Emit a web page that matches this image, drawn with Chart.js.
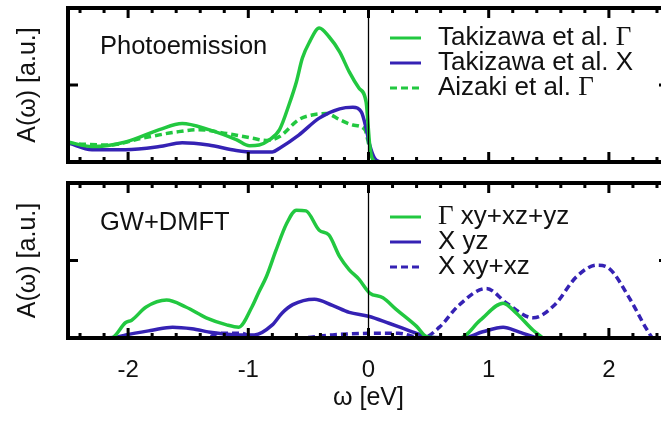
<!DOCTYPE html>
<html>
<head>
<meta charset="utf-8">
<script src="https://cdn.jsdelivr.net/npm/chart.js@4.4.1/dist/chart.umd.min.js"></script>
<style>
  html, body { margin: 0; padding: 0; background: #fff; overflow: hidden; width: 661px; height: 424px; }
  canvas { position: absolute; left: 0; }
  #topChart { top: 0; }
  #bottomChart { top: 170px; }
</style>
</head>
<body>
<canvas id="topChart" width="680" height="170" style="width:680px;height:170px"></canvas>
<canvas id="bottomChart" width="680" height="254" style="width:680px;height:254px"></canvas>
<script>
// Photoemission (top panel)
const peOmegaG = [-2.5, -2.3, -2.02, -1.74, -1.55, -1.33, -1.1, -0.99, -0.91, -0.83, -0.74, -0.66, -0.6, -0.55, -0.49, -0.41, -0.33, -0.24, -0.16, -0.08, -0.02, 0.01, 0.03, 0.07, 0.3];
const peTakizawaG = [0.26, 0.2, 0.26, 0.42, 0.5, 0.42, 0.29, 0.21, 0.22, 0.28, 0.42, 0.75, 1.04, 1.35, 1.56, 1.74, 1.63, 1.43, 1.17, 0.96, 0.78, 0.22, 0.05, 0.0, 0.0];

const peOmegaX = [-2.5, -2.3, -2.02, -1.74, -1.55, -1.33, -1.1, -0.95, -0.8, -0.74, -0.58, -0.41, -0.24, -0.13, -0.06, -0.02, 0.01, 0.05, 0.1, 0.3];
const peTakizawaX = [0.25, 0.16, 0.16, 0.2, 0.25, 0.22, 0.15, 0.13, 0.13, 0.18, 0.35, 0.57, 0.69, 0.71, 0.65, 0.44, 0.22, 0.05, 0.0, 0.0];

const peOmegaA = [-2.5, -2.16, -1.88, -1.6, -1.41, -1.18, -0.97, -0.85, -0.74, -0.58, -0.47, -0.35, -0.24, -0.13, -0.03, 0.01, 0.05, 0.1, 0.3];
const peAizakiG = [0.24, 0.22, 0.31, 0.39, 0.42, 0.37, 0.31, 0.28, 0.33, 0.55, 0.61, 0.63, 0.55, 0.48, 0.42, 0.18, 0.03, 0.0, 0.0];

// GW+DMFT (bottom panel)
const dmftOmegaG = [-2.18, -2.14, -2.02, -1.97, -1.85, -1.68, -1.52, -1.35, -1.18, -1.08, -0.97, -0.91, -0.85, -0.77, -0.68, -0.6, -0.52, -0.41, -0.33, -0.24, -0.16, -0.08, 0.01, 0.12, 0.23, 0.4, 0.48, 0.59, 0.76, 0.93, 1.12, 1.23, 1.37, 1.45];
const dmftGamma = [0, 0, 0.2, 0.23, 0.4, 0.49, 0.4, 0.26, 0.17, 0.14, 0.4, 0.6, 0.79, 1.13, 1.48, 1.65, 1.64, 1.39, 1.33, 1.05, 0.88, 0.76, 0.58, 0.52, 0.37, 0.15, 0.02, 0, 0, 0.23, 0.45, 0.32, 0.1, 0];

const dmftOmegaYz = [-2.3, -2.1, -2.02, -1.8, -1.63, -1.47, -1.3, -1.08, -0.95, -0.8, -0.72, -0.63, -0.45, -0.3, -0.16, 0.0, 0.17, 0.26, 0.4, 0.5, 0.78, 0.95, 1.12, 1.25, 1.4];
const dmftXyz = [0, 0.01, 0.04, 0.1, 0.14, 0.12, 0.07, 0.04, 0.04, 0.17, 0.32, 0.43, 0.5, 0.42, 0.33, 0.28, 0.19, 0.14, 0.06, 0.01, 0, 0.08, 0.14, 0.08, 0];

const dmftOmegaXy = [-2.5, -1.35, -1.25, -1.05, -0.95, -0.6, -0.3, 0.0, 0.25, 0.4, 0.45, 0.59, 0.75, 0.98, 1.15, 1.37, 1.55, 1.73, 1.9, 2.0, 2.18, 2.32, 2.37, 2.5];
const dmftXxy = [0, 0, 0.06, 0.06, 0, 0, 0.04, 0.06, 0.06, 0.01, 0, 0.14, 0.42, 0.64, 0.45, 0.26, 0.43, 0.79, 0.94, 0.9, 0.49, 0.1, 0, 0];

const xTicks = [-2, -1, 0, 1, 2];
const xTickLabels = ['-2', '-1', '0', '1', '2'];

const GREEN = '#22c840';
const BLUE = '#3522b4';
const SANS = '"Liberation Sans", Arial, sans-serif';

const pts = (xs, ys) => xs.map((x, i) => ({ x: x, y: ys[i] }));

function series(label, xs, ys, color, dashed) {
  return {
    label: label,
    data: pts(xs, ys),
    borderColor: color,
    borderWidth: 3.5,
    borderDash: dashed ? [7, 4] : [],
    pointRadius: 0,
    fill: false,
    cubicInterpolationMode: 'monotone'
  };
}

// text with the Greek Gamma set in a serif face, like the original
function drawMixed(ctx, text, x, y) {
  const parts = text.split('Γ');
  let cx = x;
  parts.forEach((p, i) => {
    ctx.font = '26px ' + SANS;
    ctx.fillText(p, cx, y);
    cx += ctx.measureText(p).width;
    if (i < parts.length - 1) {
      ctx.font = '27px "Liberation Serif", serif';
      ctx.fillText('Γ', cx, y);
      cx += ctx.measureText('Γ').width;
    }
  });
}

const framePlugin = {
  id: 'frame',
  afterDatasetsDraw(chart, args, opts) {
    const { ctx, chartArea: a, scales: { x, y } } = chart;
    ctx.save();
    ctx.strokeStyle = '#000';

    // zero line
    const x0 = x.getPixelForValue(0);
    ctx.lineWidth = 1.3;
    ctx.beginPath();
    ctx.moveTo(x0, a.top);
    ctx.lineTo(x0, a.bottom);
    ctx.stroke();

    // inward ticks
    ctx.lineWidth = 3;
    for (let i = -12; i <= 12; i++) {
      const v = i * 0.2;
      const px = x.getPixelForValue(v);
      const len = (i % 5 === 0) ? 10 : 5;
      ctx.beginPath();
      ctx.moveTo(px, a.bottom); ctx.lineTo(px, a.bottom - len);
      ctx.moveTo(px, a.top); ctx.lineTo(px, a.top + len);
      ctx.stroke();
    }
    const py = y.getPixelForValue(1);
    ctx.beginPath();
    ctx.moveTo(a.left, py); ctx.lineTo(a.left + 10, py);
    ctx.moveTo(a.right, py); ctx.lineTo(a.right - 10, py);
    ctx.stroke();

    // frame
    ctx.lineWidth = 4;
    ctx.strokeRect(a.left, a.top, a.right - a.left, a.bottom - a.top);

    // panel label
    ctx.fillStyle = '#111';
    ctx.textBaseline = 'middle';
    ctx.font = '25.5px ' + SANS;
    ctx.fillText(opts.label, opts.labelX, opts.labelY);

    // legend
    chart.data.datasets.forEach((ds, i) => {
      const ly = opts.legendY + i * 25;
      ctx.strokeStyle = ds.borderColor;
      ctx.lineWidth = 3;
      ctx.setLineDash(ds.borderDash.length ? [7, 4] : []);
      ctx.beginPath();
      ctx.moveTo(opts.legendX, ly);
      ctx.lineTo(opts.legendX + 31, ly);
      ctx.stroke();
      ctx.setLineDash([]);
      ctx.fillStyle = '#111';
      drawMixed(ctx, ds.label, opts.legendX + 48, ly);
    });
    ctx.restore();
  }
};

function yAxis(titlePad) {
  return {
    min: 0,
    max: 2,
    ticks: { display: false },
    grid: { display: false },
    border: { display: false },
    title: {
      display: true,
      text: 'A(ω) [a.u.]',
      color: '#111',
      font: { size: 25, family: SANS },
      padding: { top: titlePad, bottom: 0 }
    },
    afterFit: s => { s.width = 68; }
  };
}

new Chart(document.getElementById('topChart'), {
  type: 'line',
  data: {
    datasets: [
      series('Takizawa et al. Γ', peOmegaG, peTakizawaG, GREEN, false),
      series('Takizawa et al. X', peOmegaX, peTakizawaX, BLUE, false),
      series('Aizaki et al. Γ', peOmegaA, peAizakiG, GREEN, true)
    ]
  },
  options: {
    responsive: false,
    animation: false,
    layout: { padding: { left: 0, right: 11, top: 8, bottom: 8 } },
    plugins: {
      legend: { display: false },
      tooltip: { enabled: false },
      frame: { label: 'Photoemission', labelX: 100, labelY: 47, legendX: 390, legendY: 38 }
    },
    scales: {
      x: { type: 'linear', min: -2.5, max: 2.5, display: false },
      y: yAxis(13)
    }
  },
  plugins: [framePlugin]
});

new Chart(document.getElementById('bottomChart'), {
  type: 'line',
  data: {
    datasets: [
      series('Γ xy+xz+yz', dmftOmegaG, dmftGamma, GREEN, false),
      series('X yz', dmftOmegaYz, dmftXyz, BLUE, false),
      series('X xy+xz', dmftOmegaXy, dmftXxy, BLUE, true)
    ]
  },
  options: {
    responsive: false,
    animation: false,
    layout: { padding: { left: 0, right: 11, top: 13, bottom: 0 } },
    plugins: {
      legend: { display: false },
      tooltip: { enabled: false },
      frame: { label: 'GW+DMFT', labelX: 100, labelY: 53, legendX: 390, legendY: 47 }
    },
    scales: {
      x: {
        type: 'linear',
        min: -2.5,
        max: 2.5,
        afterBuildTicks: s => { s.ticks = xTicks.map(v => ({ value: v })); },
        ticks: {
          color: '#111',
          font: { size: 24, family: SANS },
          padding: 18,
          maxRotation: 0,
          callback: (val, i) => xTickLabels[i]
        },
        grid: { display: false, drawTicks: false },
        border: { display: false },
        title: {
          display: true,
          text: 'ω [eV]',
          color: '#111',
          font: { size: 25, family: SANS },
          padding: { top: 0, bottom: 11 }
        },
        afterFit: s => { s.height = 86; }
      },
      y: yAxis(13)
    }
  },
  plugins: [framePlugin]
});
</script>
</body>
</html>
